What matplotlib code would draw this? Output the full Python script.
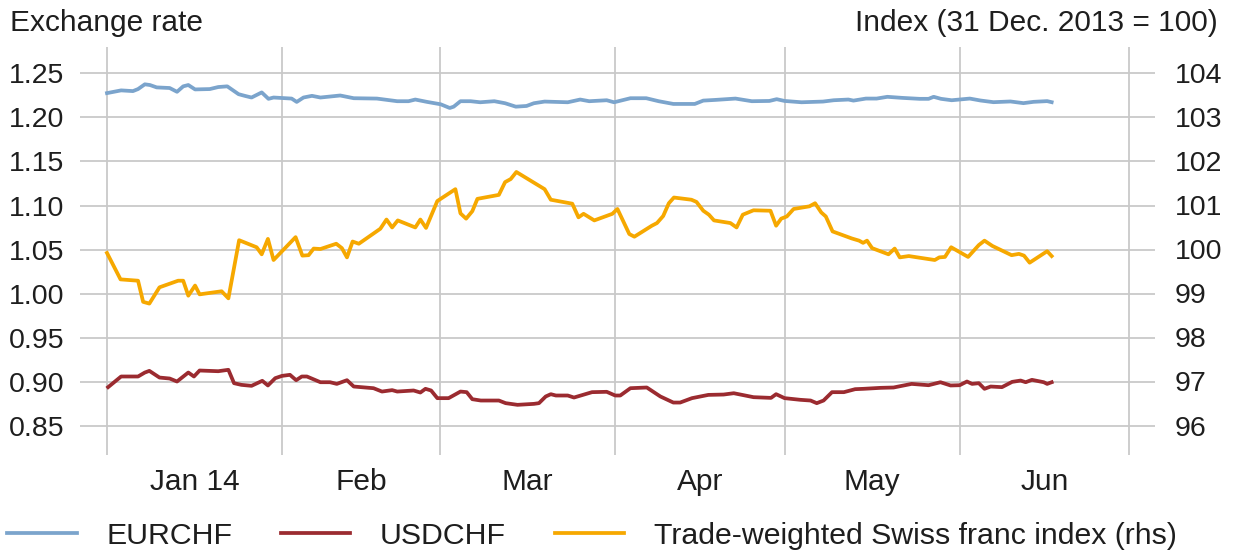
import datetime as dt
import matplotlib
matplotlib.use('Agg')
import matplotlib.pyplot as plt
import matplotlib.dates as mdates

plt.rcParams['font.family'] = ['Liberation Sans', 'DejaVu Sans']

# data: x = days after 1 Jan 2014
eur_day = [0, 2.5, 4.6, 5.5, 6.7, 7.6, 8.8, 11.1, 12.4, 13.5, 14.4, 15.6, 18.2, 19.7, 21.3,
           23.3, 24.4, 25.6, 27.4, 28.6, 29.5, 32.7, 33.6, 34.8, 36.3, 37.8, 41.3, 43.7,
           47.8, 51.4, 53.4, 54.6, 56.7, 59.1, 60.7, 61.4, 62.6, 64.4, 66.1, 68.6, 70.5,
           72.4, 74.3, 75.6, 77.5, 81.6, 83.8, 85.4, 88.5, 89.8, 92.7, 95.5, 97.7, 100.3,
           104.1, 105.6, 107.8, 111.3, 114.2, 117.3, 118.6, 120, 123, 126.8, 128.7, 131.3,
           132.2, 134.4, 136.3, 138.2, 140.8, 143.9, 145.5, 146.4, 147.7, 149.6, 152.8,
           154.7, 157, 160, 162.3, 164.1, 166.5, 167.3]
eurchf = [1.2277, 1.2308, 1.2300, 1.2323, 1.2377, 1.2369, 1.2342, 1.2335, 1.2292, 1.2354,
          1.2369, 1.2319, 1.2323, 1.2346, 1.2354, 1.2265, 1.2246, 1.2227, 1.2285, 1.2212,
          1.2227, 1.2215, 1.2177, 1.2227, 1.2246, 1.2227, 1.2250, 1.2219, 1.2215, 1.2185,
          1.2185, 1.2204, 1.2177, 1.2150, 1.2108, 1.2123, 1.2185, 1.2185, 1.2173, 1.2185,
          1.2162, 1.2123, 1.2131, 1.2162, 1.2181, 1.2173, 1.2204, 1.2185, 1.2196, 1.2173,
          1.2219, 1.2219, 1.2185, 1.2154, 1.2154, 1.2192, 1.2200, 1.2215, 1.2185, 1.2188,
          1.2208, 1.2188, 1.2173, 1.2181, 1.2196, 1.2204, 1.2192, 1.2215, 1.2215, 1.2235,
          1.2223, 1.2212, 1.2212, 1.2235, 1.2212, 1.2196, 1.2215, 1.2193, 1.2174, 1.2182,
          1.2163, 1.2178, 1.2186, 1.2174]

usd_day = [0.2, 2.5, 5.5, 6.7, 7.5, 9.3, 11.1, 12.4, 14.4, 15.4, 16.4, 19.7, 21.5, 22.5,
           23.8, 25.6, 27.5, 28.5, 29.8, 31, 32.4, 33.5, 34.5, 35.4, 37.8, 39.5, 40.7, 42.5,
           43.7, 47.2, 48.7, 50.5, 51.4, 54.3, 55.5, 56.4, 57.4, 58.5, 60.5, 62.6, 63.7,
           64.7, 66.2, 69.4, 70.6, 72.7, 75.6, 76.5, 77.7, 78.6, 79.5, 81.6, 82.7, 85.9,
           88.5, 90, 90.9, 92.7, 95.6, 98, 100.3, 101.5, 103.6, 106.5, 109.2, 111, 114.5,
           117.6, 118.5, 120, 122.8, 124.6, 125.7, 126.9, 128.4, 130.5, 132.5, 134, 137,
           139.3, 142.5, 145.5, 147.6, 149.4, 151, 152.3, 153.2, 154.4, 155.4, 156.5, 158.5,
           160.3, 161.8, 162.7, 163.8, 165.9, 166.5, 167.3]
usdchf = [0.8936, 0.9057, 0.9057, 0.9102, 0.9121, 0.9045, 0.9034, 0.9000, 0.9102, 0.9057,
          0.9125, 0.9117, 0.9133, 0.8981, 0.8962, 0.8951, 0.9008, 0.8955, 0.9038, 0.9064,
          0.9076, 0.9015, 0.9057, 0.9057, 0.8992, 0.8992, 0.8973, 0.9015, 0.8943, 0.8924,
          0.8886, 0.8902, 0.8886, 0.8898, 0.8875, 0.8917, 0.8898, 0.8811, 0.8811, 0.8886,
          0.8879, 0.8799, 0.8784, 0.8784, 0.8754, 0.8735, 0.8746, 0.8754, 0.8830, 0.8856,
          0.8841, 0.8841, 0.8818, 0.8879, 0.8883, 0.8841, 0.8841, 0.8924, 0.8932, 0.8830,
          0.8761, 0.8761, 0.8811, 0.8848, 0.8852, 0.8867, 0.8822, 0.8814, 0.8856, 0.8811,
          0.8792, 0.8784, 0.8754, 0.8784, 0.8879, 0.8879, 0.8913, 0.8917, 0.8928, 0.8932,
          0.8973, 0.8958, 0.8992, 0.8955, 0.8958, 0.9000, 0.8973, 0.8981, 0.8917, 0.8943,
          0.8936, 0.8996, 0.9011, 0.8992, 0.9019, 0.8992, 0.8973, 0.8992]

twi_day = [0, 2.4, 5.5, 6.4, 7.5, 9.3, 12.6, 13.5, 14.4, 15.6, 16.4, 20.3, 21.5, 23.4, 26.5,
           27.4, 28.5, 29.5, 33.4, 34.6, 35.7, 36.6, 37.8, 40.6, 41.6, 42.5, 43.5, 44.6,
           48.4, 49.5, 50.5, 51.5, 54.6, 55.5, 56.5, 58.5, 61.7, 62.6, 63.6, 64.7, 65.6,
           69.4, 70.5, 71.5, 72.5, 77.5, 78.6, 82.4, 83.5, 84.4, 86.3, 89.5, 90.4, 92.5,
           93.4, 96.5, 97.4, 98.5, 99.5, 100.4, 103.5, 104.4, 105.6, 106.6, 107.5, 110.4,
           111.5, 112.6, 114.5, 117.5, 118.5, 119.4, 120.4, 121.6, 124.4, 125.4, 126.5,
           127.3, 128.5, 131.9, 133.2, 133.9, 134.6, 135.5, 138.4, 139.5, 140.4, 142.0,
           146.6, 147.4, 148.4, 149.5, 152.5, 154.4, 155.4, 156.8, 160.2, 161.5, 162.4,
           163.4, 166.5, 167.3]
twi = [99.92, 99.32, 99.29, 98.81, 98.77, 99.14, 99.29, 99.29, 98.95, 99.18, 98.98, 99.05,
       98.89, 100.21, 100.05, 99.89, 100.24, 99.76, 100.28, 99.86, 99.87, 100.02, 100.01,
       100.13, 100.03, 99.82, 100.18, 100.13, 100.47, 100.68, 100.50, 100.66, 100.50,
       100.68, 100.49, 101.10, 101.37, 100.82, 100.70, 100.87, 101.15, 101.24, 101.53,
       101.60, 101.76, 101.37, 101.13, 101.04, 100.73, 100.81, 100.66, 100.81, 100.92,
       100.35, 100.29, 100.54, 100.60, 100.76, 101.05, 101.18, 101.13, 101.08, 100.88,
       100.79, 100.66, 100.60, 100.50, 100.79, 100.89, 100.88, 100.54, 100.70, 100.75,
       100.92, 100.98, 101.05, 100.84, 100.75, 100.41, 100.25, 100.20, 100.15, 100.20,
       100.03, 99.89, 100.02, 99.82, 99.85, 99.76, 99.82, 99.83, 100.05, 99.83, 100.10,
       100.20, 100.08, 99.87, 99.90, 99.86, 99.70, 99.96, 99.85]

month_labels = ['Jan 14', 'Feb', 'Mar', 'Apr', 'May', 'Jun']
left_ticks = [0.85, 0.90, 0.95, 1.00, 1.05, 1.10, 1.15, 1.20, 1.25]
right_ticks = [96, 97, 98, 99, 100, 101, 102, 103, 104]

start = dt.datetime(2014, 1, 1)
t0 = mdates.date2num(start)
month_starts = [mdates.date2num(dt.datetime(2014, m, 1)) for m in range(1, 8)]
month_mids = [(a + b) / 2 for a, b in zip(month_starts[:-1], month_starts[1:])]

blue = '#7ba4cc'
red = '#9b2b30'
orange = '#f6a800'
grid = '#c9c9c9'
txt = '#1e1e1e'
fs_tick = 20.5
fs_text = 21.5

fig = plt.figure(figsize=(12.33, 5.5), dpi=100)
ax = fig.add_axes([80 / 1233, 1 - 455 / 550, 1075 / 1233, 408 / 550])
ax2 = ax.twinx()

for m in month_starts:
    ax.axvline(m, color=grid, lw=1.3, zorder=0)
ax.set_yticks(left_ticks)
ax.set_yticklabels(['%.2f' % v for v in left_ticks])
ax.yaxis.grid(True, color=grid, lw=1.3, zorder=0)
ax.set_axisbelow(True)

l1, = ax.plot([t0 + d for d in eur_day], eurchf, color=blue, lw=2.7, label='EURCHF')
l2, = ax.plot([t0 + d for d in usd_day], usdchf, color=red, lw=2.7, label='USDCHF')
l3, = ax2.plot([t0 + d for d in twi_day], twi, color=orange, lw=2.7,
               label='Trade-weighted Swiss franc index (rhs)')

ax.set_xlim(t0 - 4.78, t0 + 185.6)
ax.set_ylim(0.8165, 1.2801)
ax2.set_ylim(95.33, 104.60)
ax2.set_yticks(right_ticks)

ax.set_xticks(month_mids)
ax.set_xticklabels(month_labels)
ax.tick_params(axis='x', length=0, pad=9, labelsize=fs_text, colors=txt)
ax.tick_params(axis='y', length=0, pad=11, labelsize=fs_tick, colors=txt)
ax2.tick_params(axis='y', length=0, pad=14, labelsize=fs_tick, colors=txt)

for a in (ax, ax2):
    for s in a.spines.values():
        s.set_visible(False)

fig.text(10 / 1233, 1 - 23 / 550, 'Exchange rate', ha='left', va='center', fontsize=fs_text, color=txt)
fig.text(1218 / 1233, 1 - 23 / 550, 'Index (31 Dec. 2013 = 100)', ha='right', va='center',
         fontsize=fs_text, color=txt)

leg = fig.legend([l1, l2, l3], [l1.get_label(), l2.get_label(), l3.get_label()],
                 loc='center left', bbox_to_anchor=(7 / 1233, 1 - 536 / 550), ncol=3,
                 frameon=False, fontsize=21.8, handlelength=2.3, handletextpad=0.98,
                 columnspacing=1.6, borderpad=0, borderaxespad=0)
for t in leg.get_texts():
    t.set_color(txt)

fig.savefig('out.png', dpi=100)
